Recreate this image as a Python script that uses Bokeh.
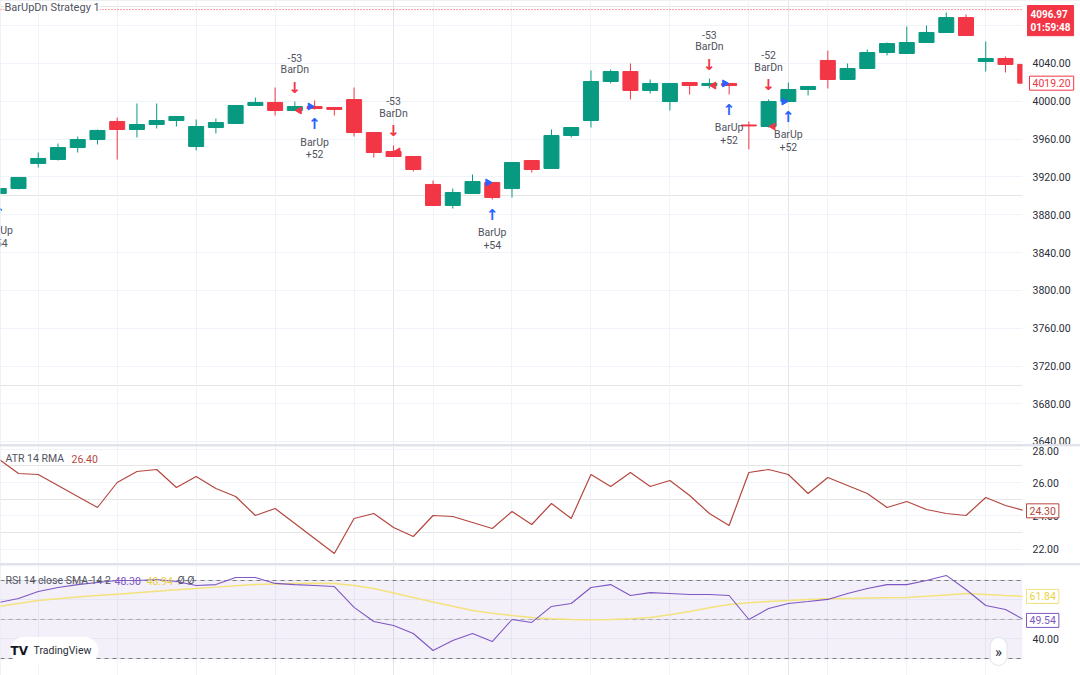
from bokeh.plotting import figure
from bokeh.layouts import column
from bokeh.models import (Range1d, FixedTicker, Span, Label, BoxAnnotation, LinearAxis,
                          ColumnDataSource, NumeralTickFormatter, Grid)
from bokeh.core.properties import value
from bokeh.embed import file_html
from bokeh.resources import INLINE

# ---------------- data ----------------
bars = list(range(53))
opens = [3902.6, 3907.8, 3934.3, 3938.5, 3951.2, 3959.6, 3978.7, 3970.2, 3975.5, 3979.7,
         3952.2, 3972.3, 3976.6, 3995.6, 3998.8, 3990.3, 3994.5, 3993.5, 4001.9, 3967.0,
         3947.0, 3941.7, 3912.1, 3889.9, 3902.6, 3914.2, 3907.8, 3937.4, 3929.0, 3963.9,
         3979.7, 4021.0, 4031.5, 4011.5, 3999.8, 4019.9, 4016.7, 4018.9, 3975.0, 3973.4,
         3999.8, 4012.5, 4043.2, 4023.1, 4034.7, 4051.6, 4050.6, 4062.2, 4072.8, 4088.6,
         4042.1, 4045.3, 4039.0]
highs = [3910.0, 3920.0, 3945.9, 3955.4, 3962.8, 3970.2, 3982.9, 3997.7, 3997.7, 3984.5,
         3980.8, 3981.8, 3996.0, 4004.0, 4014.6, 3999.8, 4000.9, 3993.8, 4014.6, 3967.5,
         3953.3, 3942.0, 3916.3, 3907.8, 3922.6, 3914.5, 3935.5, 3937.6, 3970.2, 3972.5,
         4032.6, 4033.7, 4040.0, 4023.1, 4019.2, 4020.1, 4024.1, 4019.2, 3978.7, 4002.0,
         4019.9, 4015.9, 4053.7, 4040.0, 4054.8, 4062.2, 4079.1, 4080.2, 4093.9, 4091.8,
         4063.3, 4047.4, 4041.0]
lows = [3898.0, 3907.0, 3930.0, 3937.4, 3945.9, 3954.4, 3938.5, 3961.8, 3971.3, 3973.4,
        3948.0, 3966.0, 3976.0, 3995.0, 3985.0, 3990.0, 3991.4, 3985.0, 3962.8, 3940.6,
        3941.5, 3925.8, 3889.5, 3886.7, 3902.3, 3896.2, 3898.3, 3924.8, 3928.8, 3961.8,
        3972.3, 4018.9, 4001.9, 4008.3, 3990.3, 4007.2, 4013.6, 4007.2, 3949.1, 3972.3,
        3999.5, 4006.2, 4013.6, 4022.9, 4034.5, 4048.5, 4050.4, 4062.0, 4072.6, 4069.4,
        4031.5, 4030.5, 4017.0]
closes = [3907.8, 3919.5, 3939.6, 3951.2, 3959.6, 3969.2, 3970.2, 3975.5, 3979.7, 3984.0,
          3973.4, 3977.6, 3995.6, 3998.8, 3990.3, 3994.5, 3992.4, 3991.4, 3967.0, 3945.9,
          3941.7, 3927.9, 3889.9, 3903.6, 3915.2, 3898.3, 3935.3, 3927.9, 3963.9, 3972.3,
          4021.0, 4031.5, 4011.5, 4018.9, 4018.9, 4016.7, 4018.9, 4016.7, 3974.0, 3999.8,
          4012.5, 4015.7, 4023.1, 4034.7, 4051.6, 4061.1, 4062.2, 4072.8, 4088.6, 4069.6,
          4045.3, 4039.0, 4019.2]
atr_values = [27.40, 26.54, 26.48, 25.82, 25.16, 24.50, 26.00, 26.66, 26.78, 25.70,
              26.36, 25.64, 25.16, 24.02, 24.44, 23.54, 22.64, 21.74, 23.84, 24.14,
              23.30, 22.76, 24.02, 23.96, 23.60, 23.24, 24.26, 23.48, 24.74, 23.84,
              26.48, 25.76, 26.60, 25.76, 26.12, 25.22, 24.14, 23.42, 26.60, 26.78,
              26.48, 25.34, 26.30, 25.82, 25.34, 24.50, 24.86, 24.38, 24.14, 24.02,
              25.10, 24.62, 24.30]
rsi_values = [58.7, 60.8, 64.4, 66.4, 67.9, 69.0, 70.0, 70.0, 70.5, 69.5,
              67.4, 67.9, 71.5, 71.5, 68.5, 67.9, 67.4, 66.9, 56.2, 49.0,
              46.9, 42.8, 34.1, 39.2, 42.8, 38.7, 50.0, 48.5, 56.7, 58.2,
              66.4, 67.9, 62.3, 63.8, 63.3, 62.8, 62.8, 62.3, 50.0, 55.6,
              58.2, 59.2, 60.3, 63.3, 65.9, 67.9, 67.9, 70.0, 72.6, 65.4,
              57.2, 55.1, 49.54]
rsi_ma_values = [56.7, 58.2, 59.7, 60.6, 61.5, 62.3, 63.0, 63.7, 64.5, 65.2,
                 65.9, 66.6, 67.3, 67.9, 68.2, 68.5, 68.6, 68.5, 67.4, 65.9,
                 63.6, 61.3, 59.0, 56.8, 54.6, 53.2, 52.0, 51.0, 50.4, 50.0,
                 49.9, 50.0, 50.4, 51.0, 52.4, 54.1, 56.0, 57.7, 58.6, 59.2,
                 59.8, 60.3, 60.6, 60.8, 61.0, 61.2, 61.3, 61.9, 62.6, 63.3,
                 62.8, 62.3, 61.84]

price_ticks = [3640, 3680, 3720, 3760, 3800, 3840, 3880, 3920, 3960, 4000, 4040, 4080]
atr_ticks = [22, 24, 26, 28]
rsi_ticks = [40, 60]
rsi_levels = [70, 50, 30]
time_grid_bars = [2, 6, 10, 14, 18, 22, 26, 30, 34, 38, 42, 46, 50]

short_entry_bars = [15, 20, 36, 39]
short_entry_qty = ["-53", "-53", "-53", "-52"]
long_entry_bars = [0, 16, 25, 37, 40]
long_entry_qty = ["+54", "+52", "+54", "+52", "+52"]
sell_fill_bars = [15, 20, 36, 39]
buy_fill_bars = [16, 25, 37, 40]

last_price = 4019.20
alert_price = 4096.97
countdown = "01:59:48"
atr_header = "26.40"
rsi_header_vals = ["48.30", "48.94"]

# ---------------- style / layout ----------------
UP = "#089981"
DN = "#f23645"
BLUE = "#2962ff"
TXT = "#2a2e39"
GTXT = "#50535e"
GRID = "#f0f3fa"
ATR_C = "#b5473f"
RSI_C = "#7e57c2"
MA_C = "#f4e27c"
MA_TXT = "#e9d23f"
FONT = "Roboto"

W = 1080
H_MAIN, H_ATR, H_RSI = 444, 117, 110

x_range = Range1d(0.0881, 54.80)
PPX = W / (x_range.end - x_range.start)
main_rng = Range1d(3637.16, 4106.61)
atr_rng = Range1d(21.14, 28.16)
rsi_rng = Range1d(21.28, 77.69)
PPU_MAIN = H_MAIN / (main_rng.end - main_rng.start)
PPU_ATR = H_ATR / (atr_rng.end - atr_rng.start)
PPU_RSI = H_RSI / (rsi_rng.end - rsi_rng.start)


def x_at(px):
    return x_range.start + px / PPX


AX = x_at(1022)  # where the price scale begins


def y_main(py):
    return main_rng.end - py / PPU_MAIN


def y_atr(py):
    return atr_rng.end - (py - 446) / PPU_ATR


def y_rsi(py):
    return rsi_rng.end - (py - 565) / PPU_RSI


def make_fig(h, yr, ticks):
    p = figure(width=W, height=h, x_range=x_range, y_range=yr,
               x_axis_location=None, y_axis_location=None,
               toolbar_location=None, output_backend="svg",
               min_border_left=0, min_border_right=0, min_border_top=0,
               min_border_bottom=0, outline_line_color=None,
               background_fill_color="white", border_fill_color="white")
    p.add_layout(Grid(dimension=1, ticker=FixedTicker(ticks=ticks), grid_line_color=GRID))
    p.add_layout(Grid(dimension=0, ticker=FixedTicker(ticks=time_grid_bars),
                      grid_line_color=GRID))
    return p


def add_scale(p, yr, ticks):
    # blank price-scale area, then a real axis pinned at its left edge
    p.quad(left=[AX], right=[x_range.end], bottom=[yr.start], top=[yr.end],
           fill_color="white", line_color=None)
    ax = LinearAxis(fixed_location=AX, ticker=FixedTicker(ticks=ticks),
                    formatter=NumeralTickFormatter(format="0.00"))
    ax.axis_line_color = None
    ax.major_tick_line_color = None
    ax.minor_tick_line_color = None
    ax.major_tick_out = 0
    ax.major_tick_in = 0
    ax.major_label_standoff = 10
    ax.major_label_text_font = FONT
    ax.major_label_text_font_size = "10.5px"
    ax.major_label_text_color = TXT
    p.add_layout(ax, "right")


def box_label(p, y, text, tcolor, fill, border, xoff=4, size="10.5px"):
    p.add_layout(Label(x=AX, y=y, x_offset=xoff, text=text, text_color=tcolor,
                       text_font=FONT, text_font_size=size, text_baseline="middle",
                       text_align="left", background_fill_color=fill,
                       border_line_color=border, padding=3))


# ---------------- main pane ----------------
p1 = make_fig(H_MAIN, main_rng, price_ticks)
p1.add_layout(Span(location=alert_price, dimension="width", line_color=DN,
                   line_dash="1 2", line_width=1, level="underlay"))
colors = [UP if c >= o else DN for o, c in zip(opens, closes)]
src = ColumnDataSource(dict(x=bars, h=highs, l=lows,
                            top=[max(o, c) for o, c in zip(opens, closes)],
                            bottom=[min(o, c) for o, c in zip(opens, closes)],
                            color=colors))
p1.segment(x0="x", y0="h", x1="x", y1="l", line_color="color", line_width=1, source=src)
p1.vbar(x="x", top="top", bottom="bottom", width=0.76, fill_color="color",
        line_color="color", line_width=1, source=src)

# trade annotations
sh = [highs[i] for i in short_entry_bars]
p1.text(x=short_entry_bars, y=[h + 14 / PPU_MAIN for h in sh], text=["↓"] * len(sh),
        text_font=value("DejaVu Sans"), text_font_style="bold", text_font_size="15px",
        text_color=DN, text_align="center", text_baseline="middle")
p1.text(x=short_entry_bars, y=[h + 32 / PPU_MAIN for h in sh], text=["BarDn"] * len(sh),
        text_font=value(FONT), text_font_size="10.5px", text_color=GTXT,
        text_align="center", text_baseline="middle")
p1.text(x=short_entry_bars, y=[h + 44 / PPU_MAIN for h in sh], text=short_entry_qty,
        text_font=value(FONT), text_font_size="10.5px", text_color=GTXT,
        text_align="center", text_baseline="middle")

lo = [lows[i] for i in long_entry_bars]
p1.text(x=long_entry_bars, y=[v - 15 / PPU_MAIN for v in lo], text=["↑"] * len(lo),
        text_font=value("DejaVu Sans"), text_font_style="bold", text_font_size="15px",
        text_color=BLUE, text_align="center", text_baseline="middle")
p1.text(x=long_entry_bars, y=[v - 33 / PPU_MAIN for v in lo], text=["BarUp"] * len(lo),
        text_font=value(FONT), text_font_size="10.5px", text_color=GTXT,
        text_align="center", text_baseline="middle")
p1.text(x=long_entry_bars, y=[v - 45 / PPU_MAIN for v in lo], text=long_entry_qty,
        text_font=value(FONT), text_font_size="10.5px", text_color=GTXT,
        text_align="center", text_baseline="middle")

p1.scatter(x=[i + 0.22 for i in sell_fill_bars], y=[opens[i] for i in sell_fill_bars],
           marker="triangle", size=7, angle=1.5708, fill_color=DN, line_color=DN)
p1.scatter(x=[i - 0.22 for i in buy_fill_bars], y=[opens[i] for i in buy_fill_bars],
           marker="triangle", size=7, angle=-1.5708, fill_color=BLUE, line_color=BLUE)

add_scale(p1, main_rng, price_ticks)

p1.add_layout(Label(x=x_at(4), y=y_main(7), text="BarUpDn Strategy 1", text_color=GTXT,
                    text_font=FONT, text_font_size="11px", text_baseline="middle",
                    background_fill_color="white"))
box_label(p1, last_price, f"{last_price:.2f}", DN, "white", DN, xoff=7)
p1.add_layout(Label(x=AX, y=y_main(5), x_offset=5,
                    text=f"{alert_price:.2f}\n{countdown}", text_color="white",
                    text_font=FONT, text_font_size="10px", text_font_style="bold",
                    text_baseline="top", text_align="left", background_fill_color=DN,
                    border_line_color=DN, padding=3))

# ---------------- ATR pane ----------------
p2 = make_fig(H_ATR, atr_rng, atr_ticks)
p2.line(bars, atr_values, line_color=ATR_C, line_width=1.2)
add_scale(p2, atr_rng, atr_ticks)
p2.text(x=[x_at(5)], y=[y_atr(458)], text=["ATR 14 RMA"], text_font=value(FONT),
        text_font_size="10.5px", text_color=GTXT, text_baseline="middle")
p2.text(x=[x_at(71)], y=[y_atr(458)], text=[atr_header], text_font=value(FONT),
        text_font_size="10.5px", text_color=ATR_C, text_baseline="middle")
box_label(p2, atr_values[-1], f"{atr_values[-1]:.2f}", ATR_C, "white", ATR_C)

# ---------------- RSI pane ----------------
p3 = make_fig(H_RSI, rsi_rng, rsi_ticks)
p3.add_layout(BoxAnnotation(bottom=rsi_levels[2], top=rsi_levels[0], right=AX,
                            fill_color=RSI_C, fill_alpha=0.09, line_color=None,
                            level="underlay"))
for lvl, a in zip(rsi_levels, [1.0, 0.5, 1.0]):
    p3.add_layout(Span(location=lvl, dimension="width", line_color="#787b86",
                       line_alpha=a, line_dash="4 4", line_width=1, level="underlay"))
p3.line(bars, rsi_ma_values, line_color=MA_C, line_width=1.5)
p3.line(bars, rsi_values, line_color=RSI_C, line_width=1.1)
add_scale(p3, rsi_rng, rsi_ticks)
hy = y_rsi(580)
p3.text(x=[x_at(5)], y=[hy], text=["RSI 14 close SMA 14 2"], text_font=value(FONT),
        text_font_size="10.5px", text_color=GTXT, text_baseline="middle")
p3.text(x=[x_at(114), x_at(146)], y=[hy, hy], text=rsi_header_vals, text_font=value(FONT),
        text_font_size="10.5px", text_color=[RSI_C, MA_TXT], text_baseline="middle")
p3.text(x=[x_at(177)], y=[hy], text=["Ø Ø"], text_font=value(FONT),
        text_font_size="10.5px", text_color=GTXT, text_baseline="middle")
box_label(p3, rsi_ma_values[-1], f"{rsi_ma_values[-1]:.2f}", MA_TXT, "white", MA_C)
box_label(p3, rsi_values[-1], f"{rsi_values[-1]:.2f}", RSI_C, "white", RSI_C)

# watermark logo + scroll button
p3.add_layout(Label(x=x_at(10), y=y_rsi(650),
                    text="\u2002\u2002\u2002TradingView", text_color=TXT,
                    text_font=FONT, text_font_size="10.5px", text_baseline="middle",
                    background_fill_color="white", border_radius=14, padding=7))
p3.add_layout(Label(x=x_at(10), y=y_rsi(650), text="TV", text_color="#131722",
                    text_font="DejaVu Sans", text_font_style="bold",
                    text_font_size="12px", text_baseline="middle"))
p3.add_layout(Label(x=x_at(998), y=y_rsi(651), text="»", text_color=TXT,
                    text_font=FONT, text_font_size="15px", text_baseline="middle",
                    text_align="center", background_fill_color="white",
                    border_line_color="#e0e3eb", border_radius=12, padding=5))

layout = column(p1, p2, p3, spacing=2, styles={"background-color": "#e0e3eb"})
open("out.html", "w").write(file_html(layout, INLINE))
